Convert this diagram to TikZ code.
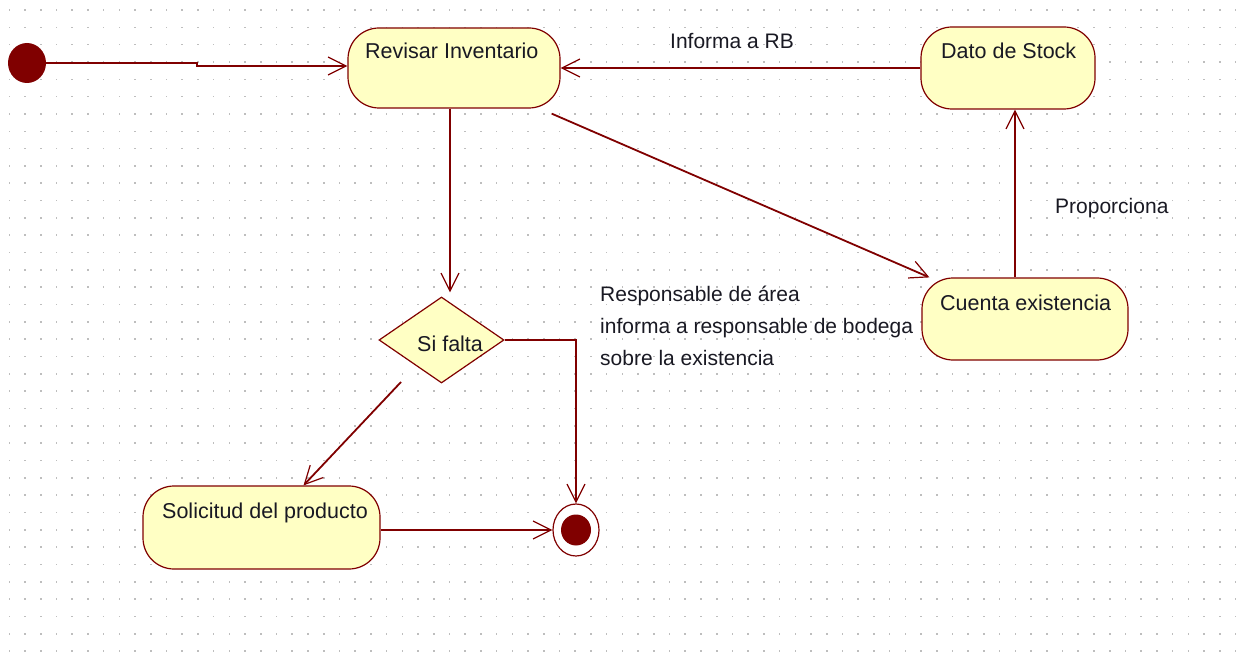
\documentclass[tikz,border=0pt]{standalone}
\usepackage{fontspec}
\setmainfont{Liberation Sans}
\usetikzlibrary{arrows.meta,shapes.geometric}
\definecolor{umlline}{RGB}{128,0,0}
\definecolor{umlfill}{RGB}{255,255,196}
\definecolor{umltext}{RGB}{25,25,35}
\definecolor{griddot}{RGB}{190,190,190}

\begin{document}
\begin{tikzpicture}[x=1pt,y=-1pt,
  activity/.style={rectangle, draw=umlline, fill=umlfill, line width=1.2pt,
                   rounded corners=31pt, inner sep=0pt},
  decision/.style={diamond, draw=umlline, fill=umlfill, line width=1.2pt, inner sep=0pt},
  flow/.style={draw=umlline, line width=1.8pt,
               -{Straight Barb[length=18pt,width=18pt,line width=1.2pt]}},
  txt/.style={font=\fontsize{21.5}{25}\selectfont, text=umltext, anchor=base west, inner sep=0pt},
  note/.style={txt, font=\fontsize{21}{25}\selectfont},
]
% canvas and dotted grid
\fill[white] (0,0) rectangle (1236,652);
\useasboundingbox (0,0) rectangle (1236,652);
\foreach \i in {0,...,78}{
  \foreach \j in {0,...,37}{
    \fill[griddot] (8.5+15.72*\i, 9.2+17.33*\j) rectangle ++(1.6,1.6);
  }
}

% activities
\node[ellipse, fill=umlline, minimum width=38pt, minimum height=40pt, inner sep=0pt] (start) at (27,63) {};
\node[activity, minimum width=212pt, minimum height=80pt] (rev) at (454,68) {};
\node[activity, minimum width=174pt, minimum height=82pt] (dato) at (1008,68) {};
\node[activity, minimum width=206pt, minimum height=82pt] (cuenta) at (1025,319) {};
\node[activity, minimum width=237pt, minimum height=83pt] (sol) at (261.5,527.5) {};
\node[decision, minimum width=125pt, minimum height=86pt] (dia) at (441.5,340) {};
\node[ellipse, draw=umlline, line width=1.2pt, fill=white, minimum width=46pt, minimum height=52pt, inner sep=0pt] (fin) at (576,530) {};
\node[ellipse, fill=umlline, minimum width=30pt, minimum height=31pt, inner sep=0pt] (fincore) at (fin) {};

% texts
\node[txt] (trev) at (365,59) {Revisar Inventario};
\node[txt] (tdato) at (941,59) {Dato de Stock};
\node[txt] (tcuenta) at (940,310) {Cuenta existencia};
\node[txt] (tsol) at (162,518) {Solicitud del producto};
\node[txt] (tdia) at (417,351) {Si falta};
\node[note] (linfo) at (670,49) {Informa a RB};
\node[note] (lprop) at (1055,214) {Proporciona};
\node[note] (lresp1) at (600,301) {Responsable de área};
\node[note] (lresp2) at (600,333) {informa a responsable de bodega};
\node[note] (lresp3) at (600,365) {sobre la existencia};

% transitions
\draw[flow] (start.east) -- ++(151,0) |- ([yshift=2pt]rev.west);
\coordinate (revdown) at ([xshift=-4pt]rev.south);
\draw[flow, shorten >=4pt] (revdown) -- (revdown |- dia.north);
\draw[flow] ([shift={(-9,5)}]rev.south east) -- ([xshift=8pt]cuenta.north west);
\draw[flow] (dato.west) -- (rev.east);
\coordinate (stockup) at ([xshift=7pt]dato.south);
\draw[flow] (stockup |- cuenta.north) -- (stockup);
\draw[flow] (dia.east) -| (fin.north);
\coordinate (split) at (401,382);
\draw[flow] (split) -- ([xshift=42pt]sol.north);
\draw[flow] (sol.east |- fin.west) -- (fin.west);
\end{tikzpicture}
\end{document}
